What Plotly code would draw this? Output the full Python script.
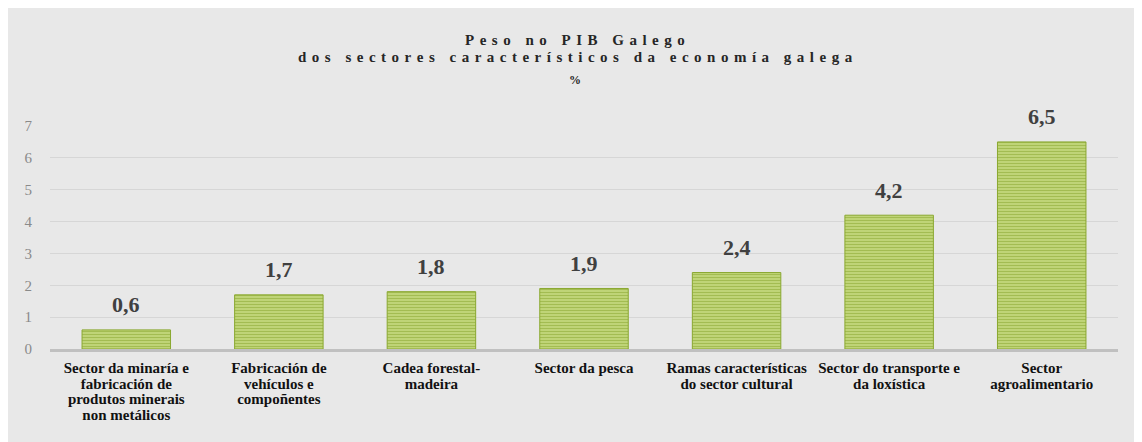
import plotly.graph_objects as go

categories = [
    "Sector da minaría e<br>fabricación de<br>produtos minerais<br>non metálicos",
    "Fabricación de<br>vehículos e<br>compoñentes",
    "Cadea forestal-<br>madeira",
    "Sector da pesca",
    "Ramas características<br>do sector cultural",
    "Sector do transporte e<br>da loxística",
    "Sector<br>agroalimentario",
]
values = [0.6, 1.7, 1.8, 1.9, 2.4, 4.2, 6.5]
value_labels = ["0,6", "1,7", "1,8", "1,9", "2,4", "4,2", "6,5"]
y_ticks = [0, 1, 2, 3, 4, 5, 6, 7]

title_line1 = "Peso no PIB Galego"
title_line2 = "dos sectores característicos da economía galega"
title_line3 = "%"

# page body has an 8px margin; figure coordinates below are relative to figure
W, H = 1134, 434
L, R, T, B = 42, 1110, 118, 341
SERIF = "Liberation Serif, Times New Roman, serif"


def px_x(p):
    return (p - L) / (R - L)


def px_y(p):
    return (B - p) / (B - T)


def spaced(s):
    return "\u2009\u2006".join(list(s))


def big_lines(label, size):
    return "<br>".join(f'<span style="font-size:{size}px">{ln}</span>'
                       for ln in label.split("<br>"))


fig = go.Figure()
fig.add_trace(go.Bar(
    x=categories,
    y=values,
    marker=dict(
        color="#c4d87c",
        line=dict(color="#8aa830", width=1),
        pattern=dict(shape="-", fgcolor="#7e9e22", bgcolor="#c8db82",
                     size=3, solidity=0.5, fillmode="overlay"),
    ),
    width=0.58,
    hoverinfo="skip",
))

for c, v, t in zip(categories, values, value_labels):
    fig.add_annotation(x=c, y=v, text=t, showarrow=False, yanchor="middle",
                       yshift=25, font=dict(family=SERIF, size=22, color="#404040",
                                            weight="bold"))

for txt, py, sz in [(spaced(title_line1), 32, 15), (spaced(title_line2), 49, 15),
                    (title_line3, 72, 12)]:
    fig.add_annotation(xref="paper", yref="paper", x=px_x(567), y=px_y(py),
                       text=txt, showarrow=False, xanchor="center", yanchor="middle",
                       font=dict(family=SERIF, size=sz, color="#262626", weight="bold"))

fig.update_layout(
    width=W, height=H,
    margin=dict(l=L, r=W - R, t=T, b=H - B, pad=0),
    paper_bgcolor="#e8e8e8",
    plot_bgcolor="rgba(0,0,0,0)",
    showlegend=False,
    xaxis=dict(
        showgrid=False, showline=True, linecolor="#c0c0c0", linewidth=2.5,
        tickmode="array", tickvals=categories,
        ticktext=[big_lines(c, 15) for c in categories],
        ticks="", tickfont=dict(family=SERIF, size=12.3, color="#111111", weight="bold"),
        ticklabelstandoff=6, fixedrange=True,
    ),
    yaxis=dict(
        range=[0, 7], tickvals=y_ticks, showgrid=True, gridcolor="#d6d6d6",
        gridwidth=1, zeroline=False, showline=False, ticks="",
        tickfont=dict(family=SERIF, size=15, color="#8a8a8a"),
        ticklabelstandoff=17, fixedrange=True,
    ),
)

fig.write_html("out.html")
